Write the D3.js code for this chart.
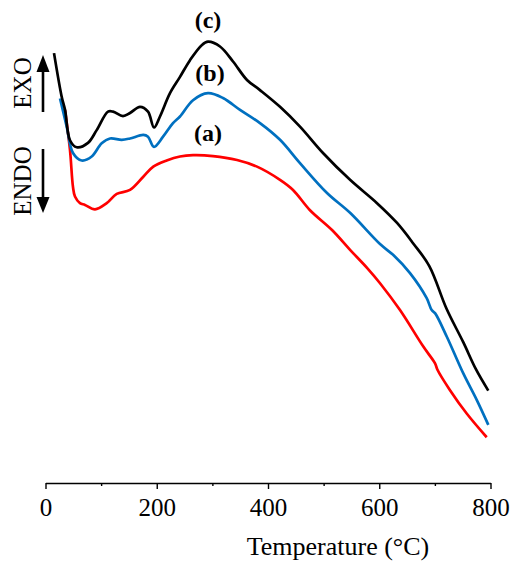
<!DOCTYPE html>
<html>
<head>
<meta charset="utf-8">
<script src="https://cdn.jsdelivr.net/npm/d3@7"></script>
<style>
  html, body { margin: 0; padding: 0; background: #fff; }
  svg { display: block; }
</style>
</head>
<body>
<svg id="chart" width="530" height="563"></svg>
<script>
// ---- data (temperature in °C, heat flow in arbitrary units) ----
const tempC = [15.3, 29.1, 35.1, 44.0, 56.1, 76.4, 92.0, 112.4, 121.4, 139.3, 151.9, 169.9, 184.3, 195.1, 205.8, 223.8, 241.8, 259.8, 280.8, 292.1, 313.7, 337.1, 362.2, 385.6, 421.6, 457.5, 498.9, 547.5, 596.0, 632.0, 660.8, 690.0, 721.0, 751.0, 774.0, 796.0];
const valC  = [97.7, 87.8, 84.8, 77.9, 76.3, 77.3, 80.2, 84.4, 84.4, 83.4, 84.1, 85.5, 84.4, 80.8, 83.3, 88.6, 92.3, 96.1, 99.5, 100.3, 99.2, 95.8, 91.6, 89.3, 85.5, 81.0, 75.0, 68.9, 63.6, 59.1, 54.5, 49.3, 39.6, 32.0, 25.8, 21.0];

const tempB = [26.1, 38.1, 49.4, 65.1, 83.1, 101.0, 116.0, 137.0, 151.9, 175.8, 184.3, 195.1, 211.3, 229.2, 241.8, 265.2, 292.1, 319.1, 349.7, 385.6, 421.6, 457.5, 506.1, 547.5, 601.4, 625.3, 655.3, 685.3, 694.3, 700.3, 721.3, 751.1, 775.2, 796.1];
const valB  = [87.4, 81.0, 75.0, 73.3, 74.2, 77.2, 78.3, 78.0, 78.3, 79.1, 78.7, 76.4, 78.7, 81.8, 83.3, 87.0, 88.6, 87.5, 84.8, 81.8, 78.0, 72.7, 65.9, 61.4, 54.3, 51.8, 47.7, 42.0, 39.3, 38.6, 33.3, 24.9, 18.9, 13.2];

const tempA = [35.1, 44.0, 49.4, 53.0, 62.0, 71.0, 89.0, 110.0, 128.0, 151.9, 175.8, 193.8, 217.9, 241.8, 265.2, 301.1, 344.3, 380.2, 421.6, 445.0, 475.5, 515.1, 547.5, 578.0, 601.4, 637.3, 679.2, 700.3, 704.4, 727.2, 757.2, 793.2];
const valA  = [84.8, 75.7, 67.3, 65.1, 63.6, 63.2, 62.2, 63.6, 65.7, 66.6, 69.6, 71.9, 73.3, 74.2, 74.5, 74.3, 73.4, 71.9, 68.9, 66.6, 62.0, 57.5, 53.0, 48.9, 45.4, 39.3, 31.0, 27.2, 25.8, 21.1, 15.8, 10.4];

const seriesNames  = ["(a)", "(b)", "(c)"];
const seriesColors = ["#ff0000", "#0070c0", "#000000"];
const majorTicks = [0, 200, 400, 600, 800];
const minorTicks = [100, 300, 500, 700];
const xTitle = "Temperature (°C)";

// ---- chart ----
const svg = d3.select("#chart");
const x = d3.scaleLinear().domain([0, 800]).range([45.5, 490.5]);
const y = d3.scaleLinear().domain([0, 100]).range([483, 43]);

const serif = "'Liberation Serif', 'Times New Roman', serif";

// x axis
const axisG = svg.append("g").attr("transform", "translate(0,483)");
axisG.call(d3.axisBottom(x).tickValues(majorTicks).tickSize(6).tickSizeOuter(0).tickPadding(9).tickFormat(d3.format("d")));
axisG.select(".domain").attr("stroke", "#000").attr("stroke-width", 1.4);
axisG.selectAll(".tick line").attr("stroke", "#000").attr("stroke-width", 1.4);
axisG.selectAll(".tick text").attr("font-family", serif).attr("font-size", 25).attr("fill", "#000");

const minorG = svg.append("g").attr("transform", "translate(0,483)");
minorG.call(d3.axisBottom(x).tickValues(minorTicks).tickSize(3).tickSizeOuter(0).tickFormat(""));
minorG.select(".domain").remove();
minorG.selectAll(".tick line").attr("stroke", "#000").attr("stroke-width", 1.4);

svg.append("text")
  .attr("x", 338).attr("y", 555)
  .attr("text-anchor", "middle")
  .attr("font-family", serif).attr("font-size", 26)
  .text(xTitle);

// curves
const seriesData = [
  d3.zip(tempA, valA),
  d3.zip(tempB, valB),
  d3.zip(tempC, valC)
];
const line = d3.line().x(d => x(d[0])).y(d => y(d[1])).curve(d3.curveCatmullRom.alpha(0.5));
svg.append("g").selectAll("path")
  .data(seriesData)
  .join("path")
  .attr("d", line)
  .attr("fill", "none")
  .attr("stroke", (d, i) => seriesColors[i])
  .attr("stroke-width", 2.7)
  .attr("stroke-linejoin", "round");

// series labels
const labelPos = [[208, 141], [210, 81], [208, 28]];
svg.append("g").selectAll("text")
  .data(seriesNames)
  .join("text")
  .attr("x", (d, i) => labelPos[i][0])
  .attr("y", (d, i) => labelPos[i][1])
  .attr("text-anchor", "middle")
  .attr("font-family", serif).attr("font-weight", "bold").attr("font-size", 24)
  .text(d => d);

// EXO / ENDO labels with arrows
svg.append("text")
  .attr("transform", "translate(31,83) rotate(-90)")
  .attr("text-anchor", "middle")
  .attr("font-family", serif).attr("font-size", 25)
  .text("EXO");
svg.append("text")
  .attr("transform", "translate(31,181) rotate(-90)")
  .attr("text-anchor", "middle")
  .attr("font-family", serif).attr("font-size", 25)
  .text("ENDO");

const ax = 43;
svg.append("line").attr("x1", ax).attr("x2", ax).attr("y1", 112).attr("y2", 70)
  .attr("stroke", "#000").attr("stroke-width", 2.6);
svg.append("path").attr("d", `M${ax},55 L${ax - 6.5},72 L${ax + 6.5},72 Z`).attr("fill", "#000");
svg.append("line").attr("x1", ax).attr("x2", ax).attr("y1", 149).attr("y2", 199)
  .attr("stroke", "#000").attr("stroke-width", 2.6);
svg.append("path").attr("d", `M${ax},213 L${ax - 6.5},197 L${ax + 6.5},197 Z`).attr("fill", "#000");
</script>
</body>
</html>
